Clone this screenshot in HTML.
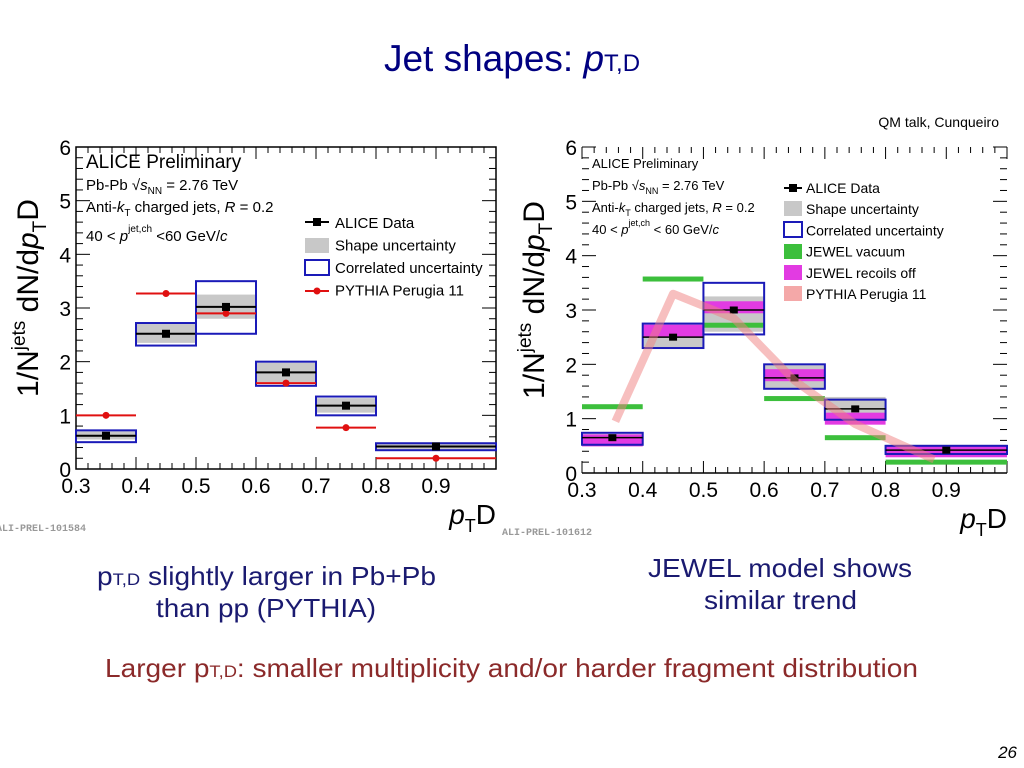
<!DOCTYPE html>
<html><head><meta charset="utf-8"><style>
body{margin:0;background:#fff;width:1024px;height:768px;overflow:hidden;font-family:"Liberation Sans",sans-serif}
svg{position:absolute;left:0;top:0}
</style></head><body>
<svg id="s" width="1024" height="768" xmlns="http://www.w3.org/2000/svg" font-family="Liberation Sans, sans-serif">
<text x="512" y="71" text-anchor="middle" font-size="37" fill="#000080">Jet shapes: <tspan font-style="italic">p</tspan><tspan font-size="24">T,D</tspan></text>
<text x="999" y="127" text-anchor="end" font-size="14" fill="#000">QM talk, Cunqueiro</text>
<g id="L"></g>
<g id="R"></g>
<text x="97" y="585" font-size="26" fill="#1a1a70" textLength="339" lengthAdjust="spacingAndGlyphs">p<tspan font-size="17">T,D</tspan> slightly larger in Pb+Pb</text>
<text x="156" y="617" font-size="26" fill="#1a1a70" textLength="220" lengthAdjust="spacingAndGlyphs">than pp (PYTHIA)</text>
<text x="648" y="577" font-size="26" fill="#1a1a70" textLength="264" lengthAdjust="spacingAndGlyphs">JEWEL model shows</text>
<text x="704" y="609" font-size="26" fill="#1a1a70" textLength="153" lengthAdjust="spacingAndGlyphs">similar trend</text>
<text x="105" y="677" font-size="26" fill="#8b2a2a" textLength="813" lengthAdjust="spacingAndGlyphs">Larger p<tspan font-size="17">T,D</tspan>: smaller multiplicity and/or harder fragment distribution</text>
<text x="1017" y="758" text-anchor="end" font-size="17" font-style="italic" fill="#000">26</text>
</svg>
<script>
const binLo=[0.3,0.4,0.5,0.6,0.7,0.8];
const binHi=[0.4,0.5,0.6,0.7,0.8,1.0];
const binC=[0.35,0.45,0.55,0.65,0.75,0.9];
const L_data=[0.62,2.52,3.02,1.8,1.18,0.42];
const L_shapeLo=[0.55,2.35,2.8,1.62,1.05,0.36];
const L_shapeHi=[0.7,2.7,3.25,1.98,1.32,0.49];
const L_corrLo=[0.5,2.3,2.52,1.55,1.0,0.35];
const L_corrHi=[0.72,2.72,3.5,2.0,1.35,0.48];
const L_pythia=[1.0,3.27,2.9,1.6,0.77,0.2];
const R_data=[0.65,2.5,3.0,1.75,1.18,0.42];
const R_shapeLo=[0.55,2.3,2.6,1.55,1.0,0.36];
const R_shapeHi=[0.72,2.7,3.25,1.98,1.4,0.52];
const R_corrLo=[0.52,2.3,2.55,1.55,0.98,0.35];
const R_corrHi=[0.74,2.75,3.5,2.0,1.35,0.5];
const R_jewVac=[1.22,3.57,2.72,1.37,0.65,0.2];
const R_jewRec=[0.6,2.62,3.05,1.8,1.0,0.4];
const R_pyX=[0.355,0.45,0.55,0.65,0.75,0.88];
const R_pyY=[0.95,3.3,2.85,1.7,0.9,0.25];
const xTicks=[0.3,0.4,0.5,0.6,0.7,0.8,0.9];
const yTicks=[0,1,2,3,4,5,6];
const NS='http://www.w3.org/2000/svg';
function mk(p,t,a){const e=document.createElementNS(NS,t);for(const k in a)e.setAttribute(k,a[k]);p.appendChild(e);return e;}
function chart(g,o){
 const X=v=>o.x0+(v-0.3)/0.7*(o.x1-o.x0), Y=v=>o.y0-v/6*(o.y0-o.y1);
 if(o.frame){const f=mk(g,'rect',{x:o.x0,y:o.y1,width:o.x1-o.x0,height:o.y0-o.y1,fill:'none',stroke:'#000','stroke-width':1.5});
 }
 else{const f=mk(g,'line',{x1:o.x0,x2:o.x1,y1:o.y0,y2:o.y0,stroke:'#000','stroke-width':1.5});
 }
 for(let i=0;i<=70;i+=2){const v=0.3+i*0.01;const l=i%10==0?12:6;
  mk(g,'line',{x1:X(v),x2:X(v),y1:o.y0,y2:o.y0-l,stroke:'#000','stroke-width':1});
  mk(g,'line',{x1:X(v),x2:X(v),y1:o.y1,y2:o.y1+l,stroke:'#000','stroke-width':1});}
 for(let i=0;i<=30;i++){const v=i*0.2;const l=i%5==0?14:7;
  mk(g,'line',{x1:o.x0,x2:o.x0+l,y1:Y(v),y2:Y(v),stroke:'#000','stroke-width':1});
  mk(g,'line',{x1:o.x1,x2:o.x1-l,y1:Y(v),y2:Y(v),stroke:'#000','stroke-width':1});}
 xTicks.forEach(v=>{const t=mk(g,'text',{x:X(v),y:o.y0+24,'text-anchor':'middle','font-size':21});t.textContent=v.toFixed(1);
  });
 yTicks.forEach(v=>{const t=mk(g,'text',{x:o.x0-5,y:Y(v)+8,'text-anchor':'end','font-size':21});t.textContent=v;
  });
 const xt=mk(g,'text',{x:o.x1,y:o.y0+55,'text-anchor':'end','font-size':28});
 xt.innerHTML='<tspan font-style="italic">p</tspan><tspan font-size="18" dy="8">T</tspan><tspan dy="-8">D</tspan>';
 
 const yt=mk(g,'text',{transform:`translate(${o.x0-38},${(o.y0+o.y1)/2-10}) rotate(-90)`,'text-anchor':'middle','font-size':30});
 yt.innerHTML='1/N<tspan font-size="19" dy="-13">jets</tspan><tspan dy="13"> dN/d</tspan><tspan font-style="italic">p</tspan><tspan font-size="19" dy="8">T</tspan><tspan dy="-8">D</tspan>';
 
 const pr=mk(g,'text',{x:o.x0-80,y:o.y0+62,'font-size':10,'font-family':'Liberation Mono, monospace','font-weight':'bold',fill:'#999'});pr.textContent=o.prel;
 
 return {X,Y};
}
function label(g,x,y,s,html,name){const t=mk(g,'text',{x,y,'font-size':s});t.innerHTML=html;}
(function(){
 const g=document.getElementById('L');
 const {X,Y}=chart(g,{x0:76,x1:496,y0:469,y1:147,frame:true,prel:'ALI-PREL-101584'});
 binC.forEach((c,i)=>{
  const s=mk(g,'rect',{x:X(binLo[i]),y:Y(L_shapeHi[i]),width:X(binHi[i])-X(binLo[i]),height:Y(L_shapeLo[i])-Y(L_shapeHi[i]),fill:'#c8c8c8'});
  
  const b=mk(g,'rect',{x:X(binLo[i]),y:Y(L_corrHi[i]),width:X(binHi[i])-X(binLo[i]),height:Y(L_corrLo[i])-Y(L_corrHi[i]),fill:'none',stroke:'#1a1ab8','stroke-width':2});
  
  const pl=mk(g,'line',{x1:X(binLo[i]),x2:X(binHi[i]),y1:Y(L_pythia[i]),y2:Y(L_pythia[i]),stroke:'#e01010','stroke-width':2});
  
  const pc=mk(g,'circle',{cx:X(c),cy:Y(L_pythia[i]),r:3.5,fill:'#e01010'});
  
  const dl=mk(g,'line',{x1:X(binLo[i]),x2:X(binHi[i]),y1:Y(L_data[i]),y2:Y(L_data[i]),stroke:'#000','stroke-width':2});
  
  const dp=mk(g,'rect',{x:X(c)-4,y:Y(L_data[i])-4,width:8,height:8,fill:'#000'});
  
 });
 label(g,86,168,19,'ALICE Preliminary','header');
 label(g,86,190,15,'Pb-Pb √<tspan font-style="italic">s</tspan><tspan font-size="10" dy="4">NN</tspan><tspan dy="-4"> = 2.76 TeV</tspan>','energy-label');
 label(g,86,212,15,'Anti-<tspan font-style="italic">k</tspan><tspan font-size="10" dy="4">T</tspan><tspan dy="-4">  charged jets, </tspan><tspan font-style="italic">R</tspan> = 0.2','jet-label');
 label(g,86,241,15,'40 &lt; <tspan font-style="italic">p</tspan><tspan font-size="10" dy="-9">jet,ch</tspan><tspan dy="9">  &lt;60 GeV/</tspan><tspan font-style="italic">c</tspan>','pt-label');
 mk(g,'line',{x1:305,x2:329,y1:222,y2:222,stroke:'#000','stroke-width':2});mk(g,'rect',{x:313,y:218,width:8,height:8});
 mk(g,'rect',{x:305,y:238,width:24,height:15,fill:'#c8c8c8'});
 mk(g,'rect',{x:305,y:260,width:24,height:15,fill:'none',stroke:'#1a1ab8','stroke-width':2});
 mk(g,'line',{x1:305,x2:329,y1:291,y2:291,stroke:'#e01010','stroke-width':2});mk(g,'circle',{cx:317,cy:291,r:3.5,fill:'#e01010'});
 ['ALICE Data','Shape uncertainty','Correlated uncertainty','PYTHIA Perugia 11'].forEach((t,i)=>label(g,335,228+i*22.5,15,t,'legend-entry'));
})();
(function(){
 const g=document.getElementById('R');
 const {X,Y}=chart(g,{x0:582,x1:1007,y0:473,y1:147,frame:false,prel:'ALI-PREL-101612'});
 binC.forEach((c,i)=>{
  const w=X(binHi[i])-X(binLo[i]);
  const s=mk(g,'rect',{x:X(binLo[i]),y:Y(R_shapeHi[i]),width:w,height:Y(R_shapeLo[i])-Y(R_shapeHi[i]),fill:'#c8c8c8'});
  
  const jv=mk(g,'rect',{x:X(binLo[i]),y:Y(R_jewVac[i])-2.5,width:w,height:5,fill:'#3cbf3c'});
  
  const jr=mk(g,'rect',{x:X(binLo[i]),y:Y(R_jewRec[i])-6,width:w,height:12,fill:'#e23be2'});
  
  const b=mk(g,'rect',{x:X(binLo[i]),y:Y(R_corrHi[i]),width:w,height:Y(R_corrLo[i])-Y(R_corrHi[i]),fill:'none',stroke:'#1a1ab8','stroke-width':2});
  
  const dl=mk(g,'line',{x1:X(binLo[i]),x2:X(binHi[i]),y1:Y(R_data[i]),y2:Y(R_data[i]),stroke:'#000','stroke-width':1.5});
  
  const dp=mk(g,'rect',{x:X(c)-4,y:Y(R_data[i])-3.5,width:8,height:7,fill:'#000'});
  
 });
 const pts=R_pyX.map((x,i)=>X(x)+','+Y(R_pyY[i])).join(' ');
 const py=mk(g,'polyline',{points:pts,fill:'none',stroke:'#f08080','stroke-opacity':0.5,'stroke-width':8,'stroke-linejoin':'round'});
 
 label(g,592,168,13,'ALICE Preliminary','header');
 label(g,592,190,13,'Pb-Pb √<tspan font-style="italic">s</tspan><tspan font-size="9" dy="4">NN</tspan><tspan dy="-4"> = 2.76 TeV</tspan>','energy-label');
 label(g,592,212,13,'Anti-<tspan font-style="italic">k</tspan><tspan font-size="9" dy="4">T</tspan><tspan dy="-4">  charged jets, </tspan><tspan font-style="italic">R</tspan> = 0.2','jet-label');
 label(g,592,234,13,'40 &lt; <tspan font-style="italic">p</tspan><tspan font-size="9" dy="-8">jet,ch</tspan><tspan dy="8"> &lt; 60 GeV/</tspan><tspan font-style="italic">c</tspan>','pt-label');
 mk(g,'line',{x1:784,x2:802,y1:188,y2:188,stroke:'#000','stroke-width':2});mk(g,'rect',{x:789,y:184,width:8,height:8});
 mk(g,'rect',{x:784,y:201,width:18,height:15,fill:'#c8c8c8'});
 mk(g,'rect',{x:784,y:222,width:18,height:15,fill:'none',stroke:'#1a1ab8','stroke-width':2});
 mk(g,'rect',{x:784,y:244,width:18,height:15,fill:'#3cbf3c'});
 mk(g,'rect',{x:784,y:265,width:18,height:15,fill:'#e23be2'});
 mk(g,'rect',{x:784,y:286,width:18,height:15,fill:'#f4a8a8'});
 ['ALICE Data','Shape uncertainty','Correlated uncertainty','JEWEL vacuum','JEWEL recoils off','PYTHIA Perugia 11'].forEach((t,i)=>label(g,806,193+i*21.2,14,t,'legend-entry'));
})();
</script>
</body></html>
